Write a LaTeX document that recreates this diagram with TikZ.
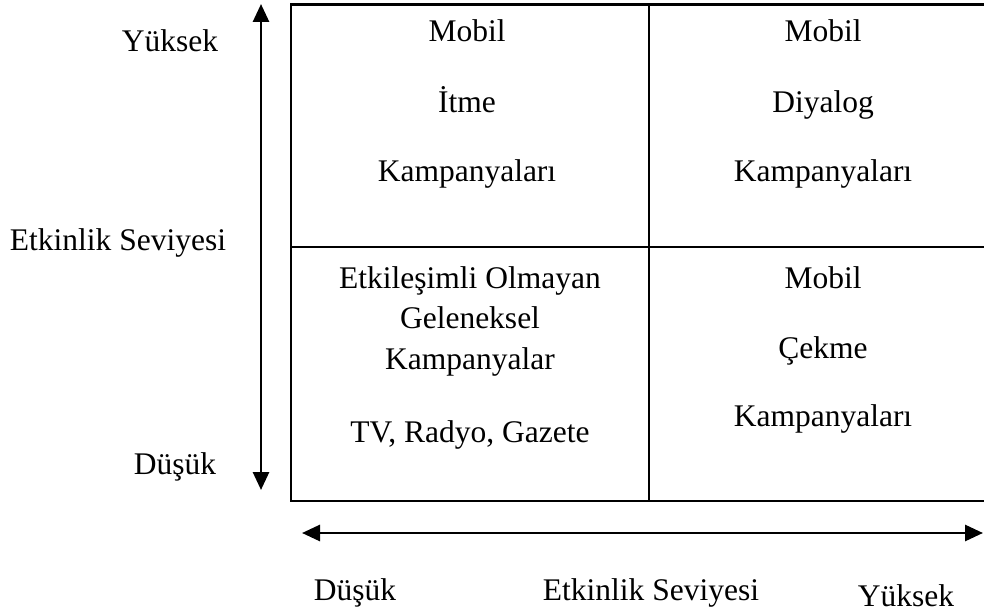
\documentclass[tikz,border=0pt]{standalone}
\usepackage{fontspec}
\setmainfont{Liberation Serif}
\usetikzlibrary{arrows.meta}
\begin{document}
\begin{tikzpicture}[x=1pt,y=-1pt,
  lbl/.style={font=\fontsize{31.5}{38}\selectfont, inner sep=0pt, anchor=base},
  rule/.style={line width=2.3pt},
  axis/.style={line width=2.8pt,
    {Triangle[width=16pt,length=18pt]}-{Triangle[width=16pt,length=18pt]}}]
\useasboundingbox (0,0) rectangle (984,612);

% the 2x2 matrix
\draw[rule] (291,4.5) rectangle (1008,501);
\draw[rule] (649,4.5) -- (649,501);
\draw[rule] (291,247) -- (1008,247);

% axes
\coordinate (vtop) at (261,4);
\coordinate (vbot) at (261,490);
\coordinate (hleft) at (302,533);
\coordinate (hright) at (983,533);
\draw[axis] (vtop) -- (vbot);
\draw[axis] (hleft) -- (hright);

% vertical axis labels
\node[lbl] (yhigh) at (170,52) {Yüksek};
\node[lbl] (ylabel) at (118,251) {Etkinlik Seviyesi};
\node[lbl] (ylow) at (175,474) {Düşük};

% horizontal axis labels
\node[lbl] (xlow) at (355,600) {Düşük};
\node[lbl] (xlabel) at (651,600) {Etkinlik Seviyesi};
\node[lbl] (xhigh) at (906,606) {Yüksek};

% top left cell
\node[lbl] (tl1) at (467,42) {Mobil};
\node[lbl] (tl2) at (467,113) {İtme};
\node[lbl] (tl3) at (467,182) {Kampanyaları};

% top right cell
\node[lbl] (tr1) at (823,42) {Mobil};
\node[lbl] (tr2) at (823,113) {Diyalog};
\node[lbl] (tr3) at (823,182) {Kampanyaları};

% bottom left cell
\node[lbl] (bl1) at (470,288) {Etkileşimli Olmayan};
\node[lbl] (bl2) at (470,328) {Geleneksel};
\node[lbl] (bl3) at (470,369) {Kampanyalar};
\node[lbl] (bl4) at (470,442) {TV, Radyo, Gazete};

% bottom right cell
\node[lbl] (br1) at (823,288) {Mobil};
\node[lbl] (br2) at (823,358) {Çekme};
\node[lbl] (br3) at (823,426) {Kampanyaları};
\end{tikzpicture}
\end{document}
